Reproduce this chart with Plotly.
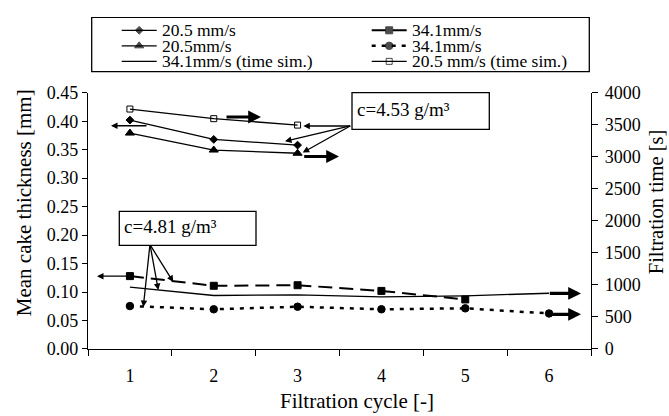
import plotly.graph_objects as go

# ---------------- data ----------------
cycles = [1, 2, 3, 4, 5, 6]
cycle_labels = ["1", "2", "3", "4", "5", "6"]

# mean cake thickness [mm] (left axis)
thick_205 = [0.402, 0.368, 0.358]                 # 20.5 mm/s (diamond)
thick_341 = [0.128, 0.111, 0.112, 0.102, 0.087]   # 34.1mm/s (filled square, dashed)

# filtration time [s] (right axis)
time_205 = [3370, 3105, 3055]                     # 20.5mm/s (triangle)
time_341 = [670, 620, 660, 620, 635, 555]         # 34.1mm/s (circle, dotted)
time_341_sim = [965, 835, 845, 815, 830, 870]     # 34.1mm/s (time sim.)
time_205_sim = [3745, 3595, 3495]                 # 20.5 mm/s (time sim.)

left_ticks = [0.00, 0.05, 0.10, 0.15, 0.20, 0.25, 0.30, 0.35, 0.40, 0.45]
right_ticks = [0, 500, 1000, 1500, 2000, 2500, 3000, 3500, 4000]

series_names = ["20.5 mm/s", "34.1mm/s", "20.5mm/s", "34.1mm/s",
                "34.1mm/s (time sim.)", "20.5 mm/s (time sim.)"]
conc_labels = ["c=4.53 g/m³", "c=4.81 g/m³"]
x_title = "Filtration cycle [-]"
left_title = "Mean cake thickness [mm]"
right_title = "Filtration time [s]"

FONT = "Liberation Serif"
BLACK = "black"

# ---------------- geometry helpers ----------------
W, H = 669, 416
ML, MR, MT, MB = 88, 78, 7, 67
PW = W - ML - MR
PH = H - MT - MB
MAIN_TOP_PX = 85


def px(x):
    return (x - ML) / PW


def py(y):
    return (H - MB - y) / PH


main_domain_top = py(MAIN_TOP_PX)

# ---------------- styles ----------------
styles = [
    dict(symbol="diamond", size=6, dash="solid", width=1.3, axis="y", x=cycles[:3], y=thick_205),
    dict(symbol="square", size=7, dash="14px,7px", width=2, axis="y", x=cycles[:5], y=thick_341),
    dict(symbol="triangle-up", size=8, dash="solid", width=1.3, axis="y2", x=cycles[:3], y=time_205),
    dict(symbol="circle", size=7.5, dash="4px,6px", width=2.5, axis="y2", x=cycles, y=time_341),
    dict(symbol=None, size=0, dash="solid", width=1.3, axis="y2", x=cycles, y=time_341_sim),
    dict(symbol="square-open", size=6, dash="solid", width=1.3, axis="y2", x=cycles[:3], y=time_205_sim),
]

fig = go.Figure()

for name, st in zip(series_names, styles):
    mode = "lines+markers" if st["symbol"] else "lines"
    marker = dict(symbol=st["symbol"], size=st["size"], color=BLACK,
                  line=dict(color=BLACK, width=1)) if st["symbol"] else None
    fig.add_trace(go.Scatter(
        x=st["x"], y=st["y"], name=name, mode=mode, yaxis=st["axis"],
        line=dict(color=BLACK, width=st["width"], dash=st["dash"]),
        marker=marker, showlegend=False, hoverinfo="x+y+name",
    ))

# ---------------- hand-built legend (on its own pixel axes) ----------------
leg_rows = [20.7, 20.7, 36.7, 36.7, 52.7, 52.7]
leg_cols = [121.7, 371.7, 121.7, 371.7, 121.7, 371.7]
LEG_LINE = 35
for i, (name, st) in enumerate(zip(series_names, styles)):
    x0 = leg_cols[i]
    yy = leg_rows[i]
    xs = [x0, x0 + LEG_LINE / 2, x0 + LEG_LINE]
    mode = "lines+markers" if st["symbol"] else "lines"
    marker = dict(symbol=st["symbol"], size=[0, st["size"], 0], color=BLACK,
                  line=dict(color=BLACK, width=1)) if st["symbol"] else None
    fig.add_trace(go.Scatter(
        x=xs, y=[yy] * 3, xaxis="x2", yaxis="y4", mode=mode,
        line=dict(color=BLACK, width=st["width"], dash=st["dash"]),
        marker=marker, showlegend=False, hoverinfo="skip",
    ))

annotations = []
shapes = []

for i, name in enumerate(series_names):
    annotations.append(dict(
        x=leg_cols[i] + LEG_LINE + 3, y=leg_rows[i], xref="x2", yref="y4",
        text=name, showarrow=False, xanchor="left", yanchor="middle",
        font=dict(family=FONT, size=17.5, color=BLACK),
    ))

shapes.append(dict(type="rect", xref="x2", yref="y4", x0=91.7, x1=589.3, y0=7.3, y1=63.3,
                   line=dict(color=BLACK, width=1.3), fillcolor="rgba(0,0,0,0)"))

# ---------------- concentration boxes ----------------
boxes = [
    (conc_labels[0], 352, 85, 489.3, 122.7),
    (conc_labels[1], 119.3, 207.3, 256, 242.3),
]
for text, bx0, by0, bx1, by1 in boxes:
    shapes.append(dict(type="rect", xref="paper", yref="paper",
                       x0=px(bx0), x1=px(bx1), y0=py(by1), y1=py(by0),
                       line=dict(color=BLACK, width=1.3), fillcolor="white", layer="above"))
    annotations.append(dict(
        x=px(bx0 + 3), y=py((by0 + by1) / 2 - 2), xref="paper", yref="paper",
        text=text, showarrow=False, xanchor="left", yanchor="middle",
        font=dict(family=FONT, size=19, color=BLACK),
    ))


def arrow(tail, tip, width=1.3, head=2, size=1.0):
    return dict(
        x=px(tip[0]), y=py(tip[1]), xref="paper", yref="paper",
        ax=tail[0] - tip[0], ay=tail[1] - tip[1],
        text="", showarrow=True, arrowhead=head, arrowsize=size,
        arrowwidth=width, arrowcolor=BLACK, standoff=0, startstandoff=0,
    )


# pointer arrows from the concentration boxes
for tip in [(303.3, 119.3), (285, 135), (302.7, 146.7)]:
    annotations.append(arrow((351.7, 119.3), tip))
for tip in [(143.3, 305.7), (158.3, 288.3), (173.3, 280)]:
    annotations.append(arrow((150, 242.7), tip))

# axis-indicating arrows
annotations.append(arrow((148, 119), (111, 119)))            # diamonds -> left axis
annotations.append(arrow((131, 274), (97, 274)))             # squares -> left axis
for tail, tip in [((225, 110), (261, 110)), ((302.7, 150.7), (339, 150.7)),
                  ((548.3, 291.7), (581, 291.7)), ((548, 313.3), (581, 313.3))]:
    annotations.append(arrow(tail, tip, width=3.2, head=2, size=0.8))

# axis titles
annotations.append(dict(x=px(356.7), y=py(403), xref="paper", yref="paper", text=x_title,
                        showarrow=False, xanchor="center", yanchor="middle",
                        font=dict(family=FONT, size=21, color=BLACK)))
annotations.append(dict(x=px(24.3), y=py(198.5), xref="paper", yref="paper", text=left_title,
                        showarrow=False, xanchor="center", yanchor="middle", textangle=-90,
                        font=dict(family=FONT, size=21, color=BLACK)))
annotations.append(dict(x=px(655.5), y=py(197.3), xref="paper", yref="paper", text=right_title,
                        showarrow=False, xanchor="center", yanchor="middle", textangle=-90,
                        font=dict(family=FONT, size=20.5, color=BLACK)))

tickfont = dict(family=FONT, size=18, color=BLACK)

fig.update_layout(
    width=W, height=H,
    margin=dict(l=ML, r=MR, t=MT, b=MB, pad=0),
    paper_bgcolor="white", plot_bgcolor="white",
    font=dict(family=FONT, color=BLACK),
    showlegend=False,
    xaxis=dict(
        range=[0.5, 6.5], tickvals=cycles, ticktext=cycle_labels, ticks="",
        showline=True, linecolor=BLACK, linewidth=1.3, showgrid=False, zeroline=False,
        tickfont=tickfont, ticklabelstandoff=10, anchor="y",
        minor=dict(tick0=0.5, dtick=1, ticks="outside", ticklen=6, tickcolor=BLACK,
                   tickwidth=1.3, showgrid=False),
    ),
    yaxis=dict(
        domain=[0, main_domain_top], range=[0, 0.45], tickvals=left_ticks, tickformat=".2f",
        ticks="outside", ticklen=5, tickwidth=1.3, tickcolor=BLACK,
        showline=True, linecolor=BLACK, linewidth=1.3, showgrid=False, zeroline=False,
        tickfont=tickfont, anchor="x",
    ),
    yaxis2=dict(
        overlaying="y", side="right", range=[0, 4000], tickvals=right_ticks,
        ticks="outside", ticklen=6, tickwidth=1.3, tickcolor=BLACK,
        showline=True, linecolor=BLACK, linewidth=1.3, showgrid=False, zeroline=False,
        tickfont=tickfont, ticklabelstandoff=3, anchor="x",
    ),
    yaxis3=dict(
        overlaying="y", side="right", range=[0, 4000], tickvals=right_ticks,
        ticks="inside", ticklen=6, tickwidth=1.3, tickcolor=BLACK,
        showticklabels=False, showline=False, showgrid=False, zeroline=False, anchor="x",
    ),
    xaxis2=dict(domain=[0, 1], range=[ML, W - MR], visible=False, anchor="y4",
                fixedrange=True),
    yaxis4=dict(domain=[py(70), 1], range=[70, MT], visible=False, anchor="x2",
                fixedrange=True),
    annotations=annotations,
    shapes=shapes,
)

fig.write_html("out.html", config={"displayModeBar": False},
               post_script="document.body.style.margin='0';document.body.style.overflow='hidden';")
